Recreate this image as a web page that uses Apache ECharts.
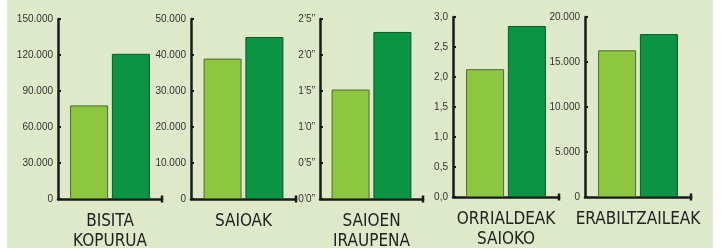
<!DOCTYPE html>
<html>
<head>
<meta charset="utf-8">
<script src="https://cdn.jsdelivr.net/npm/echarts@6/dist/echarts.min.js"></script>
<style>
  html, body { margin: 0; padding: 0; background: #fff; }
  #chart {
    width: 727px; height: 248px;
    background: linear-gradient(to right, #fff 7px, #dde9c8 7px, #dde9c8 713px, #fff 713px);
  }
</style>
</head>
<body>
<div id="chart"></div>
<script>
// datuak
var categories = ['BISITA\nKOPURUA', 'SAIOAK', 'SAIOEN\nIRAUPENA', 'ORRIALDEAK\nSAIOKO', 'ERABILTZAILEAK'];
var lightValues = [78000, 39000, 1.52, 2.13, 16300];
var darkValues = [121000, 45000, 2.32, 2.85, 18100];
var yMax = [150000, 50000, 2.5, 3, 20000];
var yStep = [30000, 10000, 0.5, 0.5, 5000];
var ticks1 = ['0', '30.000', '60.000', '90.000', '120.000', '150.000'];
var ticks2 = ['0', '10.000', '20.000', '30.000', '40.000', '50.000'];
var ticks3 = ['0\u20190\u201d', '0\u20195\u201d', '1\u20190\u201d', '1\u20195\u201d', '2\u20190\u201d', '2\u20195\u201d'];
var ticks4 = ['0,0', '0,5', '1,0', '1,5', '2,0', '2,5', '3,0'];
var ticks5 = ['0', '5.000', '10.000', '15.000', '20.000'];
var tickLabels = [ticks1, ticks2, ticks3, ticks4, ticks5];

var myChart = echarts.init(document.getElementById('chart'));

// grid placement (left edge of y axis, right end of x axis)
var gridLeft = [58, 191, 320, 453, 585];
var gridRight = [162, 296, 423, 559, 691];
var gridTop = [19, 19, 19, 17, 17];
var gridBottom = [199, 199, 199, 197, 197];

var grids = [], xAxes = [], yAxes = [], series = [];
for (var i = 0; i < 5; i++) {
    grids.push({
        left: gridLeft[i], width: gridRight[i] - gridLeft[i],
        top: gridTop[i], height: gridBottom[i] - gridTop[i],
        containLabel: false, outerBoundsMode: 'none'
    });
    xAxes.push({
        type: 'category', gridIndex: i, data: [categories[i]],
        axisLine: { lineStyle: { color: '#1a1a1a', width: 2.5 }, symbol: ['none', 'rect'], symbolSize: [7, 2.5] },
        axisTick: { show: false },
        axisLabel: { margin: 13, fontSize: 17, lineHeight: 20, color: '#222', fontFamily: '"DejaVu Sans Condensed", "Liberation Sans Narrow", sans-serif' }
    });
    (function (labels, step) {
        yAxes.push({
            type: 'value', gridIndex: i, min: 0, max: yMax[i], interval: step,
            splitLine: { show: false },
            axisLine: { show: true, lineStyle: { color: '#1a1a1a', width: 2.5 } },
            axisTick: { show: true, inside: true, length: 3, lineStyle: { color: '#1a1a1a', width: 2 } },
            axisLabel: {
                margin: 5, fontSize: 10, color: '#333', fontFamily: 'Liberation Sans, Arial, sans-serif',
                formatter: function (v) { return labels[Math.round(v / step)]; }
            }
        });
    })(tickLabels[i], yStep[i]);
    series.push({
        type: 'bar', xAxisIndex: i, yAxisIndex: i, barWidth: 38, barGap: '10%',
        data: [lightValues[i]],
        itemStyle: { color: '#8dc63f', borderColor: '#4f6b2c', borderWidth: 1 }
    });
    series.push({
        type: 'bar', xAxisIndex: i, yAxisIndex: i, barWidth: 38, barGap: '10%',
        data: [darkValues[i]],
        itemStyle: { color: '#0b9444', borderColor: '#0b5a2c', borderWidth: 1 }
    });
}

var option = {
    animation: false,
    grid: grids,
    xAxis: xAxes,
    yAxis: yAxes,
    series: series
};
myChart.setOption(option);
</script>
</body>
</html>
